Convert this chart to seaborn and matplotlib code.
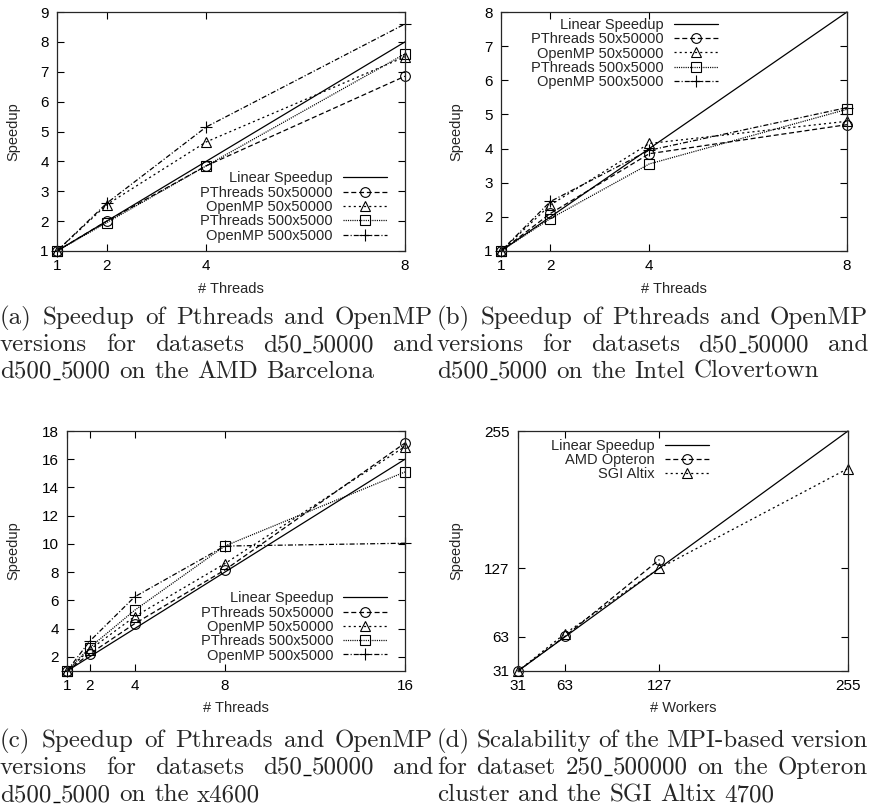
import matplotlib
matplotlib.use("Agg")
import matplotlib.pyplot as plt
from matplotlib.lines import Line2D
import seaborn as sns

W, H = 872, 809

threads8 = [1, 2, 4, 8]
threads16 = [1, 2, 4, 8, 16]
workers = [31, 63, 127, 255]
workers_amd = [31, 63, 127]

# (a) AMD Barcelona
a_pth50 = [1, 2.0, 3.85, 6.85]
a_omp50 = [1, 2.55, 4.65, 7.5]
a_pth500 = [1, 1.95, 3.85, 7.6]
a_omp500 = [1, 2.6, 5.15, 8.6]
# (b) Intel Clovertown
b_pth50 = [1, 2.1, 3.85, 4.7]
b_omp50 = [1, 2.35, 4.15, 4.8]
b_pth500 = [1, 1.95, 3.55, 5.15]
b_omp500 = [1, 2.45, 3.95, 5.2]
# (c) x4600
c_pth50 = [1, 2.2, 4.35, 8.15, 17.15]
c_omp50 = [1, 2.5, 4.85, 8.6, 16.9]
c_pth500 = [1, 2.65, 5.3, 9.85, 15.1]
c_omp500 = [1, 3.1, 6.25, 9.85, 10.05]
# (d) MPI version
d_amd = [31, 63.5, 135]
d_sgi = [31, 66, 127, 220]

series_names = ["PThreads 50x50000", "OpenMP 50x50000", "PThreads 500x5000", "OpenMP 500x5000"]

captions = {
    "a": ["(a) Speedup of Pthreads and OpenMP", "versions for datasets d50_50000 and",
          "d500_5000 on the AMD Barcelona"],
    "b": ["(b) Speedup of Pthreads and OpenMP", "versions for datasets d50_50000 and",
          "d500_5000 on the Intel Clovertown"],
    "c": ["(c) Speedup of Pthreads and OpenMP", "versions for datasets d50_50000 and",
          "d500_5000 on the x4600"],
    "d": ["(d) Scalability of the MPI-based version", "for dataset 250_500000 on the Opteron",
          "cluster and the SGI Altix 4700"],
}

sns.set_style("ticks", {"xtick.direction": "in", "ytick.direction": "in",
                        "xtick.top": True, "ytick.right": True})
plt.rcParams["font.family"] = ["Liberation Sans", "DejaVu Sans"]
plt.rcParams["lines.scale_dashes"] = False
plt.rcParams["axes.linewidth"] = 0.9

LINEAR = "-"
STYLES = [((0, (3.6, 2.0)), "o", 7),
          ((0, (1.5, 2.2)), "^", 6.5),
          ((0, (0.8, 0.8)), "s", 7),
          ((0, (3.6, 1.5, 0.8, 1.5)), "+", 8)]

fig = plt.figure(figsize=(W / 100, H / 100), dpi=100)


def make_axes(l, t, r, b):
    return fig.add_axes([l / W, 1 - b / H, (r - l) / W, (b - t) / H])


def draw(ax, x, y, label, ls, marker=None, ms=7):
    sns.lineplot(x=x, y=y, ax=ax, color="k", lw=0.9, linestyle=ls, marker=marker,
                 markersize=ms, markerfacecolor="none", markeredgecolor="k",
                 markeredgewidth=0.8, label=label, clip_on=False)


def style(ax, xt, yt, xlabel, lab_y, lab_x):
    ax.set_xticks(xt)
    ax.set_yticks(yt)
    ax.tick_params(labelsize=11, length=5, width=0.8, pad=6, colors="k")
    ax.set_xlabel(xlabel, fontsize=10.5)
    ax.set_ylabel("Speedup", fontsize=10.5)
    ax.xaxis.label.set_va("center")
    ax.yaxis.label.set_va("center")
    ax.xaxis.set_label_coords(0.5, lab_y)
    ax.yaxis.set_label_coords(lab_x, 0.5)


def legend(ax, loc, anchor):
    h, l = ax.get_legend_handles_labels()
    ax.legend(h, l, loc=loc, bbox_to_anchor=anchor, frameon=False, markerfirst=False,
              fontsize=10.5, labelspacing=0.02, handlelength=3.0, handletextpad=0.7,
              borderpad=0, borderaxespad=0)


# (a)
ax = make_axes(57, 12, 405, 251)
draw(ax, threads8, threads8, "Linear Speedup", LINEAR)
for name, ys, (ls, mk, ms) in zip(series_names, [a_pth50, a_omp50, a_pth500, a_omp500], STYLES):
    draw(ax, threads8, ys, name, ls, mk, ms)
ax.set_xlim(1, 8)
ax.set_ylim(1, 9)
style(ax, threads8, range(1, 10), "# Threads", -0.16, -0.126)
legend(ax, "lower right", (0.948, 0.035))

# (b)
ax = make_axes(501, 12, 847, 251)
draw(ax, threads8, threads8, "Linear Speedup", LINEAR)
for name, ys, (ls, mk, ms) in zip(series_names, [b_pth50, b_omp50, b_pth500, b_omp500], STYLES):
    draw(ax, threads8, ys, name, ls, mk, ms)
ax.set_xlim(1, 8)
ax.set_ylim(1, 8)
style(ax, threads8, range(1, 9), "# Threads", -0.16, -0.13)
legend(ax, "upper right", (0.627, 0.975))

# (c)
ax = make_axes(67, 431, 405, 671)
draw(ax, threads16, threads16, "Linear Speedup", LINEAR)
for name, ys, (ls, mk, ms) in zip(series_names, [c_pth50, c_omp50, c_pth500, c_omp500], STYLES):
    draw(ax, threads16, ys, name, ls, mk, ms)
ax.set_xlim(1, 16)
ax.set_ylim(1, 18)
style(ax, threads16, range(2, 19, 2), "# Threads", -0.155, -0.16)
legend(ax, "lower right", (0.947, 0.035))

# (d)
ax = make_axes(518, 431, 848, 671)
draw(ax, workers, workers, "Linear Speedup", LINEAR)
draw(ax, workers_amd, d_amd, "AMD Opteron", STYLES[0][0], "o", 7)
draw(ax, workers, d_sgi, "SGI Altix", STYLES[1][0], "^", 6.5)
ax.set_xlim(31, 255)
ax.set_ylim(31, 255)
style(ax, workers, workers, "# Workers", -0.155, -0.188)
legend(ax, "upper right", (0.579, 0.968))

# captions, justified like the LaTeX subfigure text
CAP_FS = 18
EM = CAP_FS * 100 / 72
renderer = fig.canvas.get_renderer()
space = EM * 0.333
US_KERN, US_RULE, US_AFTER = 0.06 * EM, 0.30 * EM, 0.03 * EM


def word_parts(word, yb):
    parts = []
    for j, piece in enumerate(word.split("_")):
        if j > 0:
            parts.append(None)  # LaTeX \_ is a short rule on the baseline
        parts.append(fig.text(0, 1 - yb / H, piece, fontsize=CAP_FS, family="cmr10",
                              va="baseline", ha="left"))
    return parts


def part_width(p):
    if p is None:
        return US_KERN + US_RULE + US_AFTER
    return p.get_window_extent(renderer).width


def caption(lines, x0, x1, baselines):
    for i, (line, yb) in enumerate(zip(lines, baselines)):
        words = [word_parts(w, yb) for w in line.split(" ")]
        widths = [sum(part_width(p) for p in w) for w in words]
        if i < len(lines) - 1:
            gap = (x1 - x0 - sum(widths)) / (len(words) - 1)
        else:
            gap = space
        x = x0
        for parts, w in zip(words, widths):
            px = x
            for p in parts:
                if p is None:
                    yy = 1 - (yb + 0.8) / H
                    fig.add_artist(Line2D([(px + US_KERN) / W, (px + US_KERN + US_RULE) / W],
                                          [yy, yy], transform=fig.transFigure,
                                          color="k", lw=1.0, solid_capstyle="butt"))
                else:
                    p.set_x(px / W)
                px += part_width(p)
            x += w + gap


top_lines = [324, 351, 378]
bot_lines = [747, 774, 801]
caption(captions["a"], 0, 433, top_lines)
caption(captions["b"], 437, 868, top_lines)
caption(captions["c"], 0, 433, bot_lines)
caption(captions["d"], 437, 868, bot_lines)

fig.savefig("out.png", dpi=100)
